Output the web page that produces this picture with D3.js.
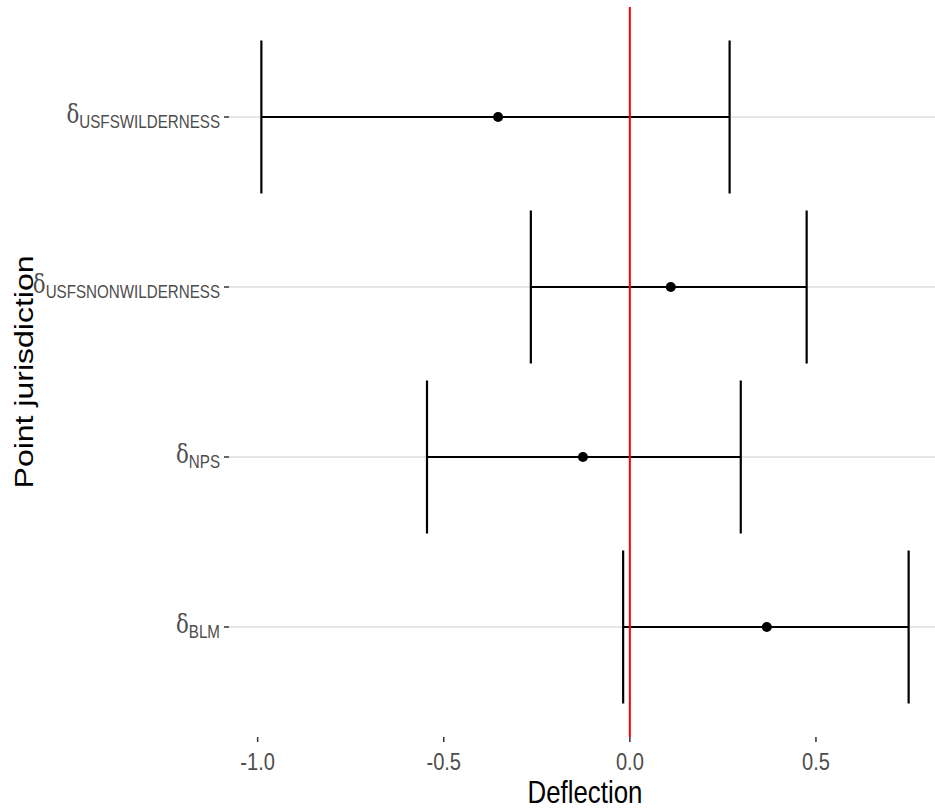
<!DOCTYPE html>
<html>
<head>
<meta charset="utf-8">
<script src="https://cdn.jsdelivr.net/npm/d3@7"></script>
<style>
  body { margin: 0; background: #fff; }
  text { font-family: "Liberation Sans", Arial, sans-serif; }
</style>
</head>
<body>
<svg id="chart"></svg>
<script>
// Data
const categories = ["USFSWILDERNESS", "USFSNONWILDERNESS", "NPS", "BLM"];
const estimates = [-0.354, 0.110, -0.126, 0.368];
const lower = [-0.990, -0.266, -0.545, -0.018];
const upper = [0.268, 0.475, 0.298, 0.749];
const xTicks = [-1.0, -0.5, 0.0, 0.5];

const width = 935, height = 811;
const squeeze = 0.82; // text in the reference looks horizontally compressed

const svg = d3.select("#chart")
  .attr("width", width)
  .attr("height", height);

// Panel bounds
const panel = { left: 229, right: 941, top: 7, bottom: 737 };

// Scales (continuous axis padded by 5% like ggplot)
const lo = d3.min(lower), hi = d3.max(upper);
const pad = (hi - lo) * 0.05;
const x = d3.scaleLinear()
  .domain([lo - pad, hi + pad])
  .range([panel.left, panel.right]);

const y = d3.scalePoint()
  .domain(categories)
  .range([panel.top, panel.bottom])
  .padding(0.647);

const capHalf = y.step() * 0.45;

const rows = categories.map((c, i) => ({
  name: c, est: estimates[i], lo: lower[i], hi: upper[i]
}));

// Grid lines
svg.append("g")
  .selectAll("line")
  .data(categories)
  .join("line")
  .attr("x1", panel.left)
  .attr("x2", width)
  .attr("y1", d => y(d))
  .attr("y2", d => y(d))
  .attr("stroke", "#dedede")
  .attr("stroke-width", 1.7);

// Error bars
const bars = svg.append("g");
bars.selectAll("line.h")
  .data(rows)
  .join("line")
  .attr("class", "h")
  .attr("x1", d => x(d.lo))
  .attr("x2", d => x(d.hi))
  .attr("y1", d => y(d.name))
  .attr("y2", d => y(d.name))
  .attr("stroke", "#000")
  .attr("stroke-width", 2.2);

["lo", "hi"].forEach(k => {
  bars.selectAll("line.cap-" + k)
    .data(rows)
    .join("line")
    .attr("class", "cap-" + k)
    .attr("x1", d => x(d[k]))
    .attr("x2", d => x(d[k]))
    .attr("y1", d => y(d.name) - capHalf)
    .attr("y2", d => y(d.name) + capHalf)
    .attr("stroke", "#000")
    .attr("stroke-width", 2.2);
});

// Points
svg.append("g")
  .selectAll("circle")
  .data(rows)
  .join("circle")
  .attr("cx", d => x(d.est))
  .attr("cy", d => y(d.name))
  .attr("r", 5)
  .attr("fill", "#000");

// Zero line
svg.append("line")
  .attr("x1", x(0))
  .attr("x2", x(0))
  .attr("y1", panel.top)
  .attr("y2", panel.bottom)
  .attr("stroke", "#ff0000")
  .attr("stroke-width", 2);

// X axis ticks and labels
const xAxis = svg.append("g");
xAxis.selectAll("line")
  .data(xTicks)
  .join("line")
  .attr("x1", d => x(d))
  .attr("x2", d => x(d))
  .attr("y1", panel.bottom)
  .attr("y2", panel.bottom + 5)
  .attr("stroke", "#333")
  .attr("stroke-width", 1.5);

xAxis.selectAll("text")
  .data(xTicks)
  .join("text")
  .attr("transform", d => `translate(${x(d)},770) scale(${squeeze},1)`)
  .attr("text-anchor", "middle")
  .attr("font-size", 24.5)
  .attr("fill", "#4d4d4d")
  .text(d => d.toFixed(1));

// Y axis ticks and labels (delta with subscript)
const yAxis = svg.append("g");
yAxis.selectAll("line")
  .data(categories)
  .join("line")
  .attr("x1", panel.left - 5)
  .attr("x2", panel.left)
  .attr("y1", d => y(d))
  .attr("y2", d => y(d))
  .attr("stroke", "#333")
  .attr("stroke-width", 1.5);

const yLabels = yAxis.selectAll("text")
  .data(categories)
  .join("text")
  .attr("transform", d => `translate(220,${y(d) + 6}) scale(${squeeze},1)`)
  .attr("text-anchor", "end")
  .attr("fill", "#4d4d4d");

yLabels.append("tspan")
  .attr("font-size", 26)
  .attr("font-family", "'DejaVu Serif', serif")
  .text("δ");
yLabels.append("tspan")
  .attr("font-size", 18.5)
  .attr("dy", 5)
  .text(d => d);

// Axis titles
svg.append("text")
  .attr("transform", `translate(${(panel.left + panel.right) / 2},803) scale(${squeeze},1)`)
  .attr("text-anchor", "middle")
  .attr("font-size", 31.5)
  .attr("fill", "#000")
  .text("Deflection");

svg.append("text")
  .attr("transform", `translate(33,${(panel.top + panel.bottom) / 2}) rotate(-90) scale(1,${squeeze})`)
  .attr("text-anchor", "middle")
  .attr("font-size", 32)
  .attr("fill", "#000")
  .text("Point jurisdiction");
</script>
</body>
</html>
